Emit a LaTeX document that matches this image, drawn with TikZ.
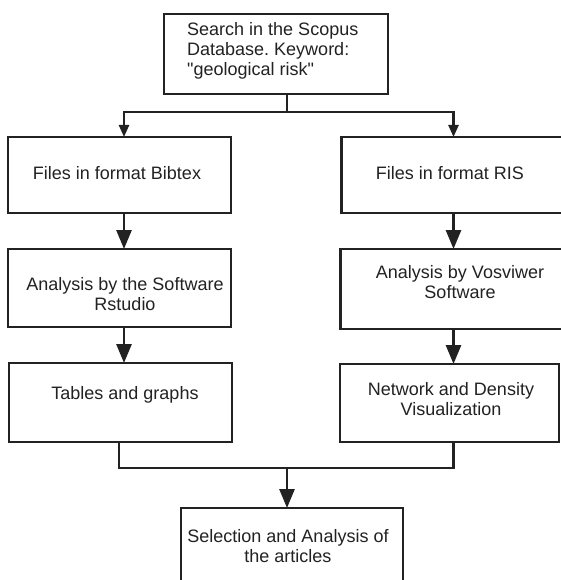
\documentclass[tikz,border=0pt]{standalone}
\usepackage{fontspec}
\setmainfont{Liberation Sans}[Ligatures=TeXOff]
\usetikzlibrary{arrows.meta}
\definecolor{ink}{RGB}{34,34,34}
\frenchspacing
\begin{document}
\begin{tikzpicture}[x=1pt,y=-1pt,
  boxnode/.style={draw=ink, line width=2.9pt, rectangle, inner sep=0pt, outer sep=0pt},
  txt/.style={text=ink, font=\fontsize{18}{20}\selectfont, inner sep=0pt, anchor=base},
  conn/.style={draw=ink, line width=2.8pt},
  bigarrow/.style={conn, -{Triangle[length=19pt,width=15pt]}},
  smallarrow/.style={draw=ink, line width=2.4pt, -{Triangle[length=12pt,width=10pt]}}]
\useasboundingbox (0,0) rectangle (561,580);
\clip (0,0) rectangle (561,580);
\fill[white] (0,0) rectangle (561,580);

% boxes
\node[boxnode, minimum width=224pt, minimum height=80pt] (top) at (276,54) {};
\node[boxnode, minimum width=223pt, minimum height=76pt] (L1) at (119.5,175) {};
\node[boxnode, minimum width=223pt, minimum height=78pt] (L2) at (119.5,288) {};
\node[boxnode, minimum width=223pt, minimum height=79pt] (L3) at (120.5,402.5) {};
\node[boxnode, minimum width=223pt, minimum height=76pt] (R1) at (453,175) {};
\node[boxnode, minimum width=223pt, minimum height=80pt] (R2) at (452,289) {};
\node[boxnode, minimum width=219pt, minimum height=78pt] (R3) at (449.5,403) {};
\node[boxnode, minimum width=222pt, minimum height=92pt] (bot) at (292,554) {};

% texts
\node[txt, anchor=base west] (tTop) at (187,36) {\begin{tabular}[t]{@{}l@{}}Search in the Scopus\\Database. Keyword:\\"geological risk"\end{tabular}};
\node[txt] (tL1) at (117,179) {Files in format Bibtex};
\node[txt] (tL2) at (125,290) {\begin{tabular}[t]{@{}c@{}}Analysis by the Software\\Rstudio\end{tabular}};
\node[txt] (tL3) at (125,399) {Tables and graphs};
\node[txt] (tR1) at (450,179) {Files in format RIS};
\node[txt] (tR2) at (460,278) {\begin{tabular}[t]{@{}c@{}}Analysis by Vosviwer\\Software\end{tabular}};
\node[txt] (tR3) at (451,395) {\begin{tabular}[t]{@{}c@{}}Network and Density\\Visualization\end{tabular}};
\node[txt] (tB) at (288,542) {\begin{tabular}[t]{@{}c@{}}Selection and Analysis of\\the articles\end{tabular}};

% connector coordinates
\coordinate (cT) at (287,112);
\coordinate (cL) at (124,0);
\coordinate (cR) at (453.5,0);
\coordinate (cM) at (287,468);

% split from top box
\draw[draw=ink, line width=2.4pt] (top.south -| cT) -- (cT);
\draw[smallarrow] (cT) -| (cL |- L1.north);
\draw[smallarrow] (cT) -| (cR |- R1.north);

% columns
\draw[bigarrow] (cL |- L1.south) -- (cL |- L2.north);
\draw[bigarrow] (cL |- L2.south) -- (cL |- L3.north);
\draw[bigarrow] (cR |- R1.south) -- (cR |- R2.north);
\draw[bigarrow] (cR |- R2.south) -- (cR |- R3.north);

% merge
\draw[conn] (L3.south -| 119,0) -- (cM -| 119,0) -- (cM -| cR) -- (cR |- R3.south);
\draw[bigarrow] (cM) -- (cM |- bot.north);
\end{tikzpicture}
\end{document}
